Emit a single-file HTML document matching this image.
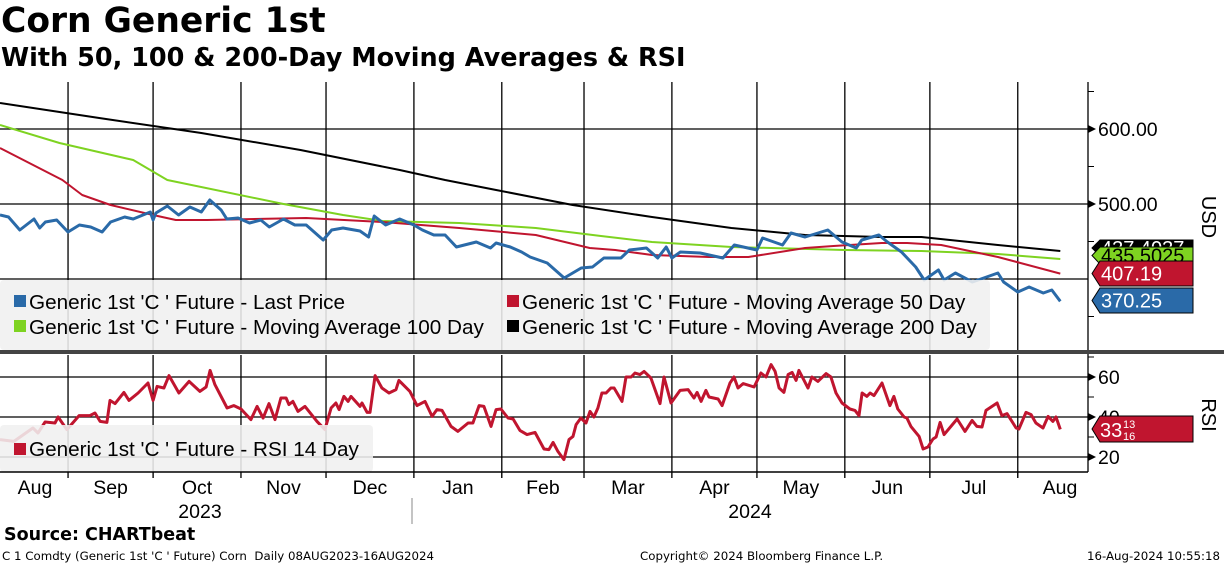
<!DOCTYPE html>
<html><head><meta charset="utf-8">
<style>
body{margin:0;width:1224px;height:566px;background:#fff;overflow:hidden;font-family:"Liberation Sans","DejaVu Sans",sans-serif}
svg{position:absolute;left:0;top:0}
</style></head><body>
<svg id="chart" width="1224" height="566"></svg>
<script>
// ---- data (days since 08-Aug-2023) ----
const priceDays=[0,3,7,12,14,16,20,24,28,32,36,39,44,47,53,54,55,59,63,67,71,74,78,80,84,88,92,95,100,104,108,114,117,121,127,130,132,136,141,146,149,153,157,161,168,173,175,180,184,187,193,199,205,209,213,219,222,228,232,235,237,240,247,255,259,267,269,276,279,284,292,297,302,304,310,313,318,323,326,331,333,337,343,348,352,354,359,363,368,371,374];
const priceVals=[485.3,482.7,465.3,480,468,476,478.7,462.7,472,469.3,462.7,476,482.7,480,489.3,478.7,488,497.3,485.3,496,489.3,505.3,492,480,481.3,474.7,478.7,469.3,480,472,472,452,465.3,468,464,456,484,472,480,472,465.3,458.7,458.7,442.7,449.3,441.3,448,442.7,436,429.3,421.3,401.3,414.7,416,428,428,438.7,441.3,428,442.7,428,436,434.7,428,445.3,438.7,454.7,445.3,461.3,456,465.3,449.3,441.3,452,458.7,449.3,436,416,398.7,412,398.7,408,396,402.7,408,396,382.7,389.3,381.3,385.3,370.25];
const ma50Days=[0,22,29,39,54,62,73,108,135,162,189,208,217,230,250,264,284,294,311,320,332,352,374];
const ma50Vals=[574.7,532,512,498.7,485.3,478.7,478.7,481.3,476,468,458.7,441.3,438.7,432,429.3,429.3,441.3,444,448,448,445.3,429.3,407.19];
const ma100Days=[0,21,47,59,100,121,135,162,189,212,230,258,298,325,352,374];
const ma100Vals=[605.3,581.3,558.7,532,500,485.3,477.3,474.7,468,457.3,449.3,442.7,438.7,437.3,433.3,426.7];
const ma200Days=[0,35,71,106,141,157,175,202,230,258,284,311,325,352,374];
const ma200Vals=[634.7,614.7,594.7,572,545.3,532,518.7,498.7,482.7,468,458.7,456,456,445.3,437.3];
const rsiDays=[0,4.9,11.6,13.4,15.9,19.4,20.5,23.6,27.9,31.7,33.5,35.3,37.7,38.8,40.6,43.7,45.5,48.7,52.2,54,55.4,57.8,59.6,63.1,66.7,70.5,72.7,74.1,75.8,80.1,82.5,85,88.5,90.7,92.8,94.9,97,99.1,100.9,101.9,103.3,105.1,107.6,111.8,114.6,116.8,118.5,119.6,121.3,122.8,123.8,127,127.7,129.5,130.5,132.3,134.7,137.2,139.7,140.7,144.6,147.1,149.9,152.4,154.1,155.9,159.1,161.5,165.1,166.8,169,170.7,173.2,175,176.7,179.2,181,183.4,185.9,188.7,191.9,193.6,195.1,196.8,198.9,200.7,202.1,203.2,204.9,206.7,208.1,209.5,210.9,212.3,213.8,215.5,216.6,219.4,220.8,222.6,224,225.7,227.2,229.6,232.8,234.2,236.7,239.9,242.7,244.8,245.9,247.3,249,250.1,253.3,254.7,257.5,258.9,260.3,262.1,266,268.4,270.2,272,273.4,274.8,276.5,278,279.4,280.8,281.8,285,286.4,288.5,291.4,293.1,294.9,297,299.8,301.6,303,304.1,305.8,306.9,308.3,311.1,313.9,315.3,316.7,318.9,319.9,321.3,324.2,325.6,327.3,329.1,330.2,331.6,333,337.6,340.4,342.9,344.6,346.4,347.8,351.7,353.4,355.2,358.4,359.4,361.9,363.7,365.4,367.9,369.7,371.4,372.5,374];
const rsiVals=[28.7,27.8,34.5,32,37.5,37,40,33.7,40.7,40.7,42,37.8,37.3,48.3,46.7,52.3,48.3,52,57,48.3,55.3,54.5,60.7,52,57.8,52.8,55,63.3,56.2,44.5,45.7,44,38.7,45.3,39.5,46.7,38.7,49.5,49.5,46.2,47.8,42.8,45.3,37.8,33.7,44.5,47,43.7,50.3,47.8,50.3,45.3,47,42.3,42.3,60.7,54.5,52,53.7,58.3,52.8,45.7,47.8,40.3,43.7,43.3,35.3,32.8,37,37,45.7,45.3,35.3,43.7,44,39.5,39,33.3,31.2,32.3,24,23.7,27.3,22.8,18.7,28.7,30.3,36.2,39.5,37,42.8,40,44.5,52,52,54.5,54.5,47.8,60,60,62,61.2,62.8,59.5,46.7,60,47,53.3,53.7,49.5,52.3,47.8,53.3,50,49,45.7,57,60,54.5,56.7,55,62,60,66.2,62.8,54.5,52.3,61.2,62.3,58.3,63.3,54.5,60,57.8,61.7,60,52,47,44,43.3,40.7,52,50.3,52,50.7,57,45.7,50.3,44,40,39.5,35.3,30.3,24,25,29,30,37.3,31.2,39,32.8,38.3,35.3,35,43.3,47,40.7,41.7,34.5,34,42.3,41.2,37,34.5,40.3,37.8,40,33.8];
const monthLabels=["Aug","Sep","Oct","Nov","Dec","Jan","Feb","Mar","Apr","May","Jun","Jul","Aug"];
const monthStartDays=[-7,24,54,85,115,146,177,206,237,267,298,328,359,390];
const priceTicks=[600,500,400];
const rsiTicks=[60,40,20];

const NS="http://www.w3.org/2000/svg";
const svg=document.getElementById('chart');
function mk(tag,attrs,parent){const e=document.createElementNS(NS,tag);for(const k in attrs)e.setAttribute(k,attrs[k]);(parent||svg).appendChild(e);return e;}
const X0=0,PXD=2.835,AXR=1088;
const xS=d=>X0+d*PXD;
const yP=p=>204-(p-500)*0.75;
const yR=r=>377-(r-60)*2;

const defs=mk('defs',{});
const cp=mk('clipPath',{id:'cpP'},defs);mk('rect',{x:0,y:82,width:AXR,height:268},cp);
const cr=mk('clipPath',{id:'cpR'},defs);mk('rect',{x:0,y:355,width:AXR,height:117},cr);

for(let i=1;i<monthStartDays.length-1;i++){
  const x=xS(monthStartDays[i]);
  let g=mk('line',{x1:x,x2:x,y1:82,y2:350,stroke:'#000','stroke-width':1.3});
  
  g=mk('line',{x1:x,x2:x,y1:355,y2:478,stroke:'#000','stroke-width':1.3});
  
}
priceTicks.forEach(t=>{const l=mk('line',{x1:0,x2:AXR,y1:yP(t),y2:yP(t),stroke:'#000','stroke-width':1.3});
  });
rsiTicks.forEach(t=>{const l=mk('line',{x1:0,x2:AXR,y1:yR(t),y2:yR(t),stroke:'#000','stroke-width':1.3});
  });

function path(days,vals,ys,color,w,clip,name){
  const d=days.map((dd,i)=>(i?'L':'M')+xS(dd).toFixed(1)+','+ys(vals[i]).toFixed(1)).join('');
  const p=mk('path',{d:d,fill:'none',stroke:color,'stroke-width':w,'stroke-linejoin':'round','clip-path':'url(#'+clip+')'});
  
}
path(ma200Days,ma200Vals,yP,'#000',2,'cpP','ma200-line');
path(ma100Days,ma100Vals,yP,'#7ed321',2,'cpP','ma100-line');
path(ma50Days,ma50Vals,yP,'#c0152f',2,'cpP','ma50-line');
path(priceDays,priceVals,yP,'#2a6aa8',3,'cpP','last-price-line');
path(rsiDays,rsiVals,yR,'#c0152f',3,'cpR','rsi-line');

let lg=mk('rect',{x:0,y:280,width:990,height:70,rx:4,fill:'rgba(240,240,240,0.88)'});

const leg=[[12,302,'#2a6aa8',"Generic 1st 'C ' Future - Last Price"],[505,302,'#c0152f',"Generic 1st 'C ' Future - Moving Average 50 Day"],[12,327,'#7ed321',"Generic 1st 'C ' Future - Moving Average 100 Day"],[505,327,'#000',"Generic 1st 'C ' Future - Moving Average 200 Day"]];
leg.forEach(l=>{
  const s=mk('rect',{x:l[0]+2,y:l[1]-7,width:12,height:12,fill:l[2]});
  
  const t=mk('text',{x:l[0]+17,y:l[1]+7,'font-size':20.7,fill:'#000'});t.textContent=l[3];
  
});
lg=mk('rect',{x:0,y:425,width:373,height:47,rx:4,fill:'rgba(240,240,240,0.88)'});

let s=mk('rect',{x:14,y:443,width:12,height:12,fill:'#c0152f'});

let t=mk('text',{x:29,y:456,'font-size':20.7});t.textContent="Generic 1st 'C ' Future - RSI 14 Day";


s=mk('rect',{x:0,y:350,width:1224,height:4,fill:'#444'});


let a=mk('line',{x1:AXR,x2:AXR,y1:82,y2:350,stroke:'#000','stroke-width':1.3});

a=mk('line',{x1:AXR,x2:AXR,y1:354,y2:472,stroke:'#000','stroke-width':1.3});

a=mk('line',{x1:0,x2:AXR,y1:472,y2:472,stroke:'#000','stroke-width':1.5});

[650,550,450,350].forEach(v=>{mk('line',{x1:AXR,x2:AXR+6,y1:yP(v),y2:yP(v),stroke:'#000'});});
[70,50,30].forEach(v=>{mk('line',{x1:AXR,x2:AXR+6,y1:yR(v),y2:yR(v),stroke:'#000'});});
priceTicks.slice(0,2).forEach(v=>{
  mk('path',{d:`M${AXR},${yP(v)-4}L${AXR+8},${yP(v)}L${AXR},${yP(v)+4}Z`,fill:'#000'});
  const tt=mk('text',{x:1098,y:yP(v)+7,'font-size':19.5});tt.textContent=v.toFixed(2);
  
});
rsiTicks.forEach(v=>{
  mk('path',{d:`M${AXR},${yR(v)-4}L${AXR+8},${yR(v)}L${AXR},${yR(v)+4}Z`,fill:'#000'});
  const tt=mk('text',{x:1098,y:yR(v)+7,'font-size':19.5});tt.textContent=v;
  
});
function tag(y1,h,color,txt,name,fc){
  const g=mk('g',{});
  mk('path',{d:`M1092,${y1+h/2}L1100,${y1}L1193,${y1}L1193,${y1+h}L1100,${y1+h}Z`,fill:color,stroke:'#000','stroke-width':1},g);
  const tt=mk('text',{x:1101,y:y1+h/2+7,'font-size':20,fill:fc||'#fff'},g);tt.textContent=txt;
}
tag(240,16,'#000','437.4037','ma200-tag');
tag(247,17,'#7ed321','435.5025','ma100-tag','#000');
tag(261,25,'#c0152f',ma50Vals[ma50Vals.length-1].toFixed(2),'ma50-tag');
tag(288,25,'#2a6aa8',priceVals[priceVals.length-1].toFixed(2),'price-tag');
const rg=mk('g',{});
mk('path',{d:'M1092,429L1100,416L1193,416L1193,442L1100,442Z',fill:'#c0152f',stroke:'#000'},rg);
t=mk('text',{x:1100,y:437,'font-size':20,fill:'#fff'},rg);t.textContent='33';
t=mk('text',{x:1123,y:428,'font-size':11,fill:'#fff'},rg);t.textContent='13';
t=mk('text',{x:1123,y:440,'font-size':11,fill:'#fff'},rg);t.textContent='16';
t=mk('text',{x:1202,y:217,'font-size':20,transform:'rotate(90 1202 217)','text-anchor':'middle'});t.textContent='USD';

t=mk('text',{x:1202,y:415,'font-size':20,transform:'rotate(90 1202 415)','text-anchor':'middle'});t.textContent='RSI';

for(let i=0;i<monthLabels.length;i++){
  const xm=(xS(Math.max(monthStartDays[i],-12))+xS(Math.min(monthStartDays[i+1],374)))/2;
  const cx=i==0?35:(i==12?1060:xm);
  const ml=mk('text',{x:cx,y:494,'font-size':19.5,'text-anchor':'middle'});ml.textContent=monthLabels[i];
  
}
for(let i=1;i<monthStartDays.length-1;i++){const x=xS(monthStartDays[i]);mk('line',{x1:x,x2:x,y1:472,y2:478,stroke:'#000'});}
t=mk('text',{x:200,y:518,'font-size':19.5,'text-anchor':'middle'});t.textContent='2023';

t=mk('text',{x:750,y:518,'font-size':19.5,'text-anchor':'middle'});t.textContent='2024';

mk('line',{x1:412,x2:412,y1:498,y2:524,stroke:'#888'});
</script>
<div style="position:absolute;left:1px;top:1px;font:bold 34.5px 'DejaVu Sans',sans-serif">Corn Generic 1st</div>
<div style="position:absolute;left:1px;top:43px;font:bold 25.5px 'DejaVu Sans',sans-serif">With 50, 100 &amp; 200-Day Moving Averages &amp; RSI</div>
<div style="position:absolute;left:4px;top:525px;font:bold 17.5px 'DejaVu Sans',sans-serif">Source: CHARTbeat</div>
<div style="position:absolute;left:2px;top:549px;font:11.8px 'DejaVu Sans',sans-serif;white-space:pre">C 1 Comdty (Generic 1st 'C ' Future) Corn  Daily 08AUG2023-16AUG2024</div>
<div style="position:absolute;left:640px;top:549px;font:11.8px 'DejaVu Sans',sans-serif">Copyright© 2024 Bloomberg Finance L.P.</div>
<div style="position:absolute;right:4px;top:549px;font:11.8px 'DejaVu Sans',sans-serif">16-Aug-2024 10:55:18</div>
</body></html>
